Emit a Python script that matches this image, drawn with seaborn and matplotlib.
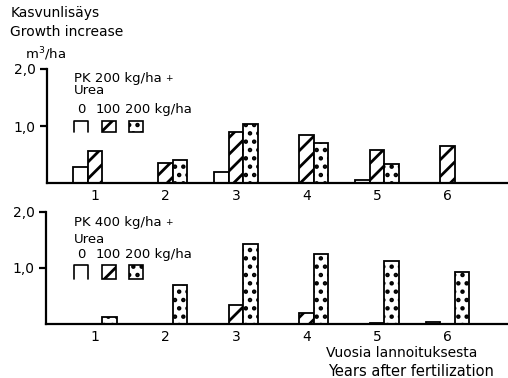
import numpy as np
import pandas as pd
import matplotlib
matplotlib.use("Agg")
import matplotlib.pyplot as plt
import seaborn as sns
from matplotlib.patches import Rectangle
from matplotlib.lines import Line2D
from matplotlib.ticker import FuncFormatter

# ---- data ----
years = ["1", "2", "3", "4", "5", "6"]
urea_levels = ["0", "100", "200"]
pk200_u0 = [0.28, np.nan, 0.19, np.nan, 0.05, np.nan]
pk200_u100 = [0.56, 0.35, 0.89, 0.84, 0.58, 0.65]
pk200_u200 = [np.nan, 0.40, 1.04, 0.71, 0.33, np.nan]
pk400_u0 = [np.nan, np.nan, np.nan, np.nan, np.nan, 0.04]
pk400_u100 = [np.nan, np.nan, 0.34, 0.20, 0.02, np.nan]
pk400_u200 = [0.12, 0.70, 1.42, 1.24, 1.12, 0.92]
y_ticks = [1.0, 2.0]

sns.set_style("white")
plt.rcParams["font.family"] = ["DejaVu Sans"]
plt.rcParams["hatch.linewidth"] = 2.0
plt.rcParams["hatch.color"] = "black"
plt.rcParams["text.color"] = "black"
plt.rcParams["xtick.color"] = "black"
plt.rcParams["ytick.color"] = "black"

W, H = 508, 378
fig = plt.figure(figsize=(W / 100, H / 100), dpi=100)


def ax_rect(left, right, bottom, top):
    return [left / W, 1 - bottom / H, (right - left) / W, (bottom - top) / H]


hatches = {"0": "", "100": "//", "200": ".."}


def make_df(series):
    rows = []
    for lvl, vals in zip(urea_levels, series):
        for yr, v in zip(years, vals):
            if not np.isnan(v):
                rows.append({"year": yr, "urea": lvl, "value": v})
    return pd.DataFrame(rows)


def draw_panel(ax, series, tick_px, left_px, right_px):
    df = make_df(series)
    sns.barplot(data=df, x="year", y="value", hue="urea", order=years,
                hue_order=urea_levels, palette=["white"] * 3, width=0.62,
                edgecolor="black", linewidth=1.3, legend=False, ax=ax,
                saturation=1)
    for cont, lvl in zip(ax.containers, urea_levels):
        for bar in cont:
            bar.set_hatch(hatches[lvl])
    spacing = 70.5
    ax.set_xlim((left_px - tick_px) / spacing, (right_px - tick_px) / spacing)
    ax.set_ylim(0, 2.0)
    ax.set_yticks(y_ticks)
    ax.yaxis.set_major_formatter(FuncFormatter(lambda v, p: f"{v:.1f}".replace(".", ",")))
    ax.set_xlabel("")
    ax.set_ylabel("")
    for s in ["top", "right"]:
        ax.spines[s].set_visible(False)
    for s in ["left", "bottom"]:
        ax.spines[s].set_linewidth(1.6)
        ax.spines[s].set_color("black")
    ax.tick_params(axis="y", length=5, width=1.6, direction="out", left=True,
                   labelsize=10, pad=3, colors="black")
    ax.tick_params(axis="x", length=0, labelsize=10, pad=4, colors="black")


ax1 = fig.add_axes(ax_rect(47, 507, 183, 69))
draw_panel(ax1, [pk200_u0, pk200_u100, pk200_u200], 95, 47, 507)
ax2 = fig.add_axes(ax_rect(46, 507, 324, 211.7))
draw_panel(ax2, [pk400_u0, pk400_u100, pk400_u200], 95, 46, 507)

# overlay in pixel coordinates for annotations
ov = fig.add_axes([0, 0, 1, 1], zorder=10)
ov.set_xlim(0, W)
ov.set_ylim(H, 0)
ov.axis("off")
ov.patch.set_alpha(0)

fs = 10
ov.text(11, 13, "Kasvunlisäys", fontsize=fs, va="center", ha="left")
ov.text(10, 32, "Growth increase", fontsize=fs, va="center", ha="left")
ov.text(25, 54, "m$^3$/ha", fontsize=9.5, va="center", ha="left")

lfs = 9.5


def legend(y_pk, y_urea, y_lvl, y_top, y_bot, pk):
    ov.text(74, y_pk, f"PK {pk} kg/ha", fontsize=lfs, va="baseline", ha="left")
    ov.text(165, y_pk - 1, "+", fontsize=6.5, va="baseline", ha="left")
    ov.text(74, y_urea, "Urea", fontsize=lfs, va="baseline", ha="left")
    ov.text(81, y_lvl, "0", fontsize=lfs, va="baseline", ha="center")
    ov.text(108, y_lvl, "100", fontsize=lfs, va="baseline", ha="center")
    ov.text(125, y_lvl, "200 kg/ha", fontsize=lfs, va="baseline", ha="left")
    ov.add_line(Line2D([74, 74, 88, 88], [y_bot, y_top, y_top, y_bot],
                       color="black", lw=1.2))
    ov.add_patch(Rectangle((102, y_top), 14, y_bot - y_top, facecolor="white",
                           edgecolor="black", lw=1.2, hatch="//"))
    ov.add_patch(Rectangle((129, y_top), 14, y_bot - y_top, facecolor="white",
                           edgecolor="black", lw=1.2, hatch=".."))


legend(82, 94, 113, 121, 132, 200)
legend(226, 243, 258, 265, 279, 400)

ov.text(326, 353, "Vuosia lannoituksesta", fontsize=fs, va="center", ha="left")
ov.text(328, 371, "Years after fertilization", fontsize=10.5, va="center", ha="left")

fig.savefig("out.png", dpi=100)
